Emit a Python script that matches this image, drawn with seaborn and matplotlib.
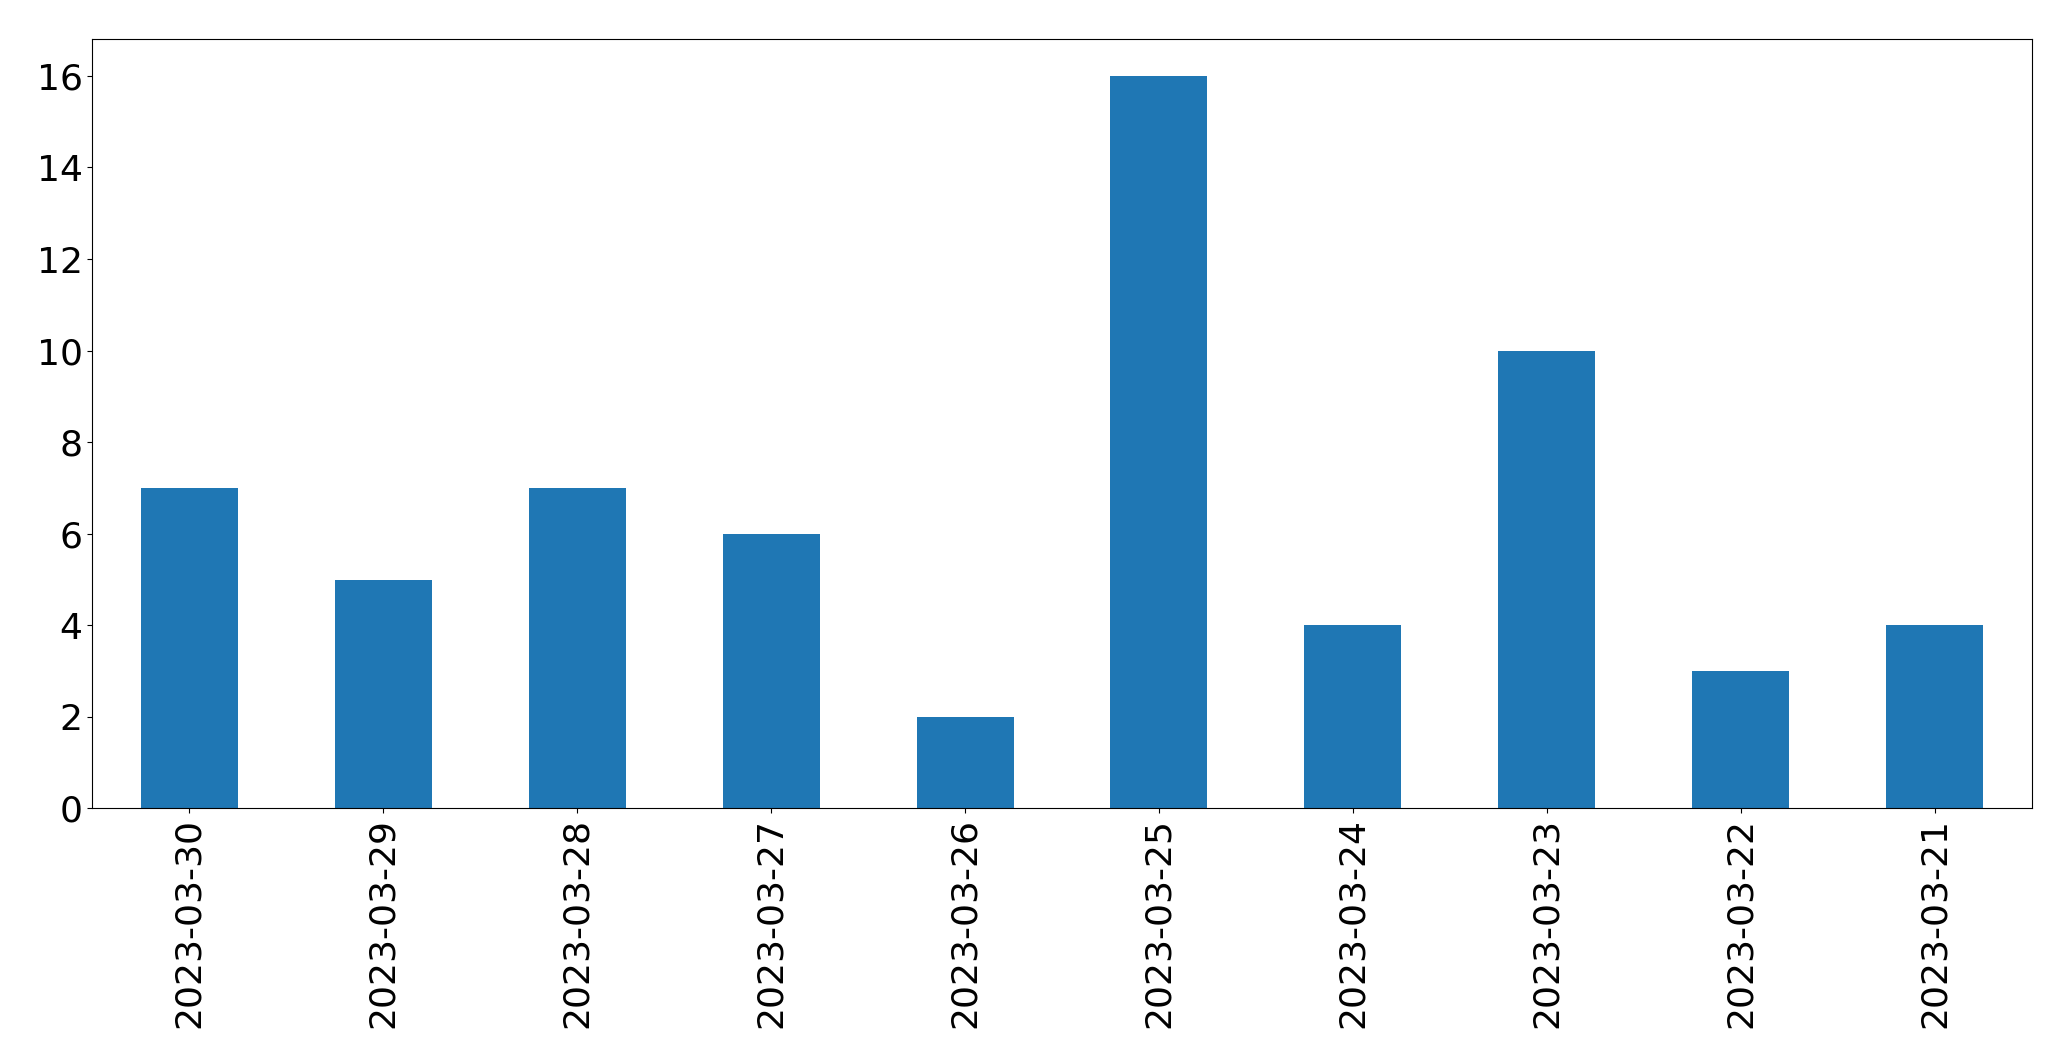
import matplotlib
matplotlib.use("Agg")
import matplotlib.pyplot as plt
import seaborn as sns
import pandas as pd

dates = ["2023-03-30", "2023-03-29", "2023-03-28", "2023-03-27", "2023-03-26",
         "2023-03-25", "2023-03-24", "2023-03-23", "2023-03-22", "2023-03-21"]
counts = [7, 5, 7, 6, 2, 16, 4, 10, 3, 4]

df = pd.DataFrame({"date": dates, "count": counts})

fig = plt.figure(figsize=(20.71, 10.61), dpi=100)
ax = fig.add_axes([0.0446, 0.238, 0.9364, 0.725])
sns.barplot(data=df, x="date", y="count", order=dates, color="#1f77b4",
            saturation=1, width=0.5, ax=ax)
ax.set_xlim(-0.5, 9.5)
ax.set_ylim(0, 16.8)
ax.set_xlabel("")
ax.set_ylabel("")
ax.tick_params(axis="both", labelsize=26)
plt.setp(ax.get_xticklabels(), rotation=90)
fig.savefig("out.png", dpi=100)
